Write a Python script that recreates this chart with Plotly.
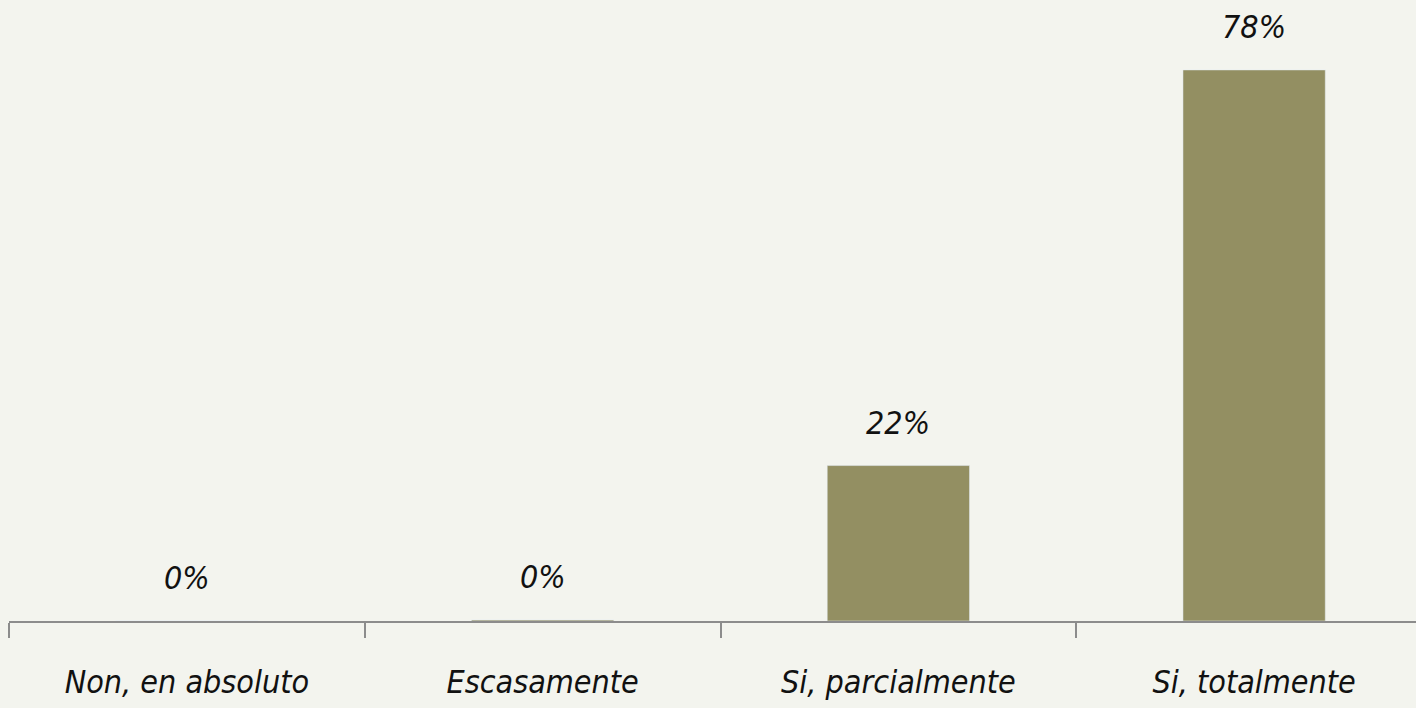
import plotly.graph_objects as go

categories = ["Non, en absoluto", "Escasamente", "Si, parcialmente", "Si, totalmente"]
values = [0, 0.15, 22, 78]
labels = ["0%", "0%", "22%", "78%"]

BG = "#F3F4EE"
BAR = "#938F62"
FONT = "Liberation Sans Narrow, DejaVu Sans Condensed, Arial Narrow, sans-serif"

fig = go.Figure()
fig.add_trace(go.Bar(
    x=list(range(len(categories))), y=values, marker_color=BAR, width=0.4,
    hoverinfo="skip",
))
for i, (v, t) in enumerate(zip(values, labels)):
    fig.add_annotation(x=i, y=v, text=t, showarrow=False, yanchor="bottom",
                       yshift=22, font=dict(family=FONT, size=32, color="#111", style="italic"))

fig.update_layout(
    width=1416, height=708,
    paper_bgcolor=BG, plot_bgcolor=BG,
    margin=dict(l=9, r=0, t=0, b=87),
    showlegend=False,
    bargap=0.6,
)
fig.update_xaxes(
    range=[-0.5, 3.455], tickmode="array",
    tickvals=list(range(len(categories))), ticktext=categories,
    showline=True, linecolor="#8C8C8C", linewidth=2,
    showgrid=False, zeroline=False,
    tickfont=dict(family=FONT, size=32, color="#111", style="italic"),
    ticklabelstandoff=32,
)
# boundary tick marks
fig.update_xaxes(minor=dict(tickvals=[-0.5, 0.5, 1.5, 2.5, 3.5], ticks="outside", ticklen=15, tickcolor="#8C8C8C", tickwidth=1.5), ticks="")
fig.update_yaxes(range=[0, 87.9], visible=False, showgrid=False, zeroline=False)

fig.write_html("out.html", config={"displayModeBar": False},
               post_script="document.body.style.margin='0';document.body.style.background='" + BG + "';")
